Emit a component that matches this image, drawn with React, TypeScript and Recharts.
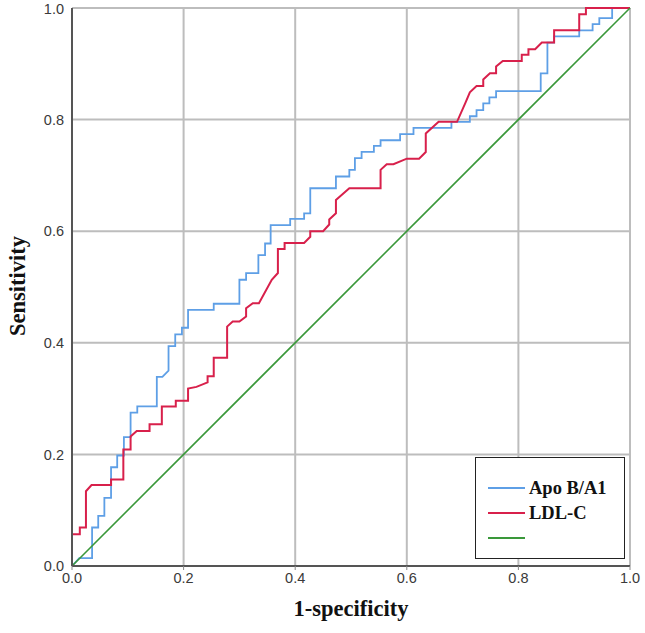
import { LineChart, Line, XAxis, YAxis, CartesianGrid } from "recharts";

// ROC step points (1-specificity, sensitivity)
const apoX = [
  0, 0.013, 0.036, 0.036, 0.047, 0.047, 0.058, 0.058, 0.07, 0.07, 0.081, 0.081, 0.093, 0.093,
  0.105, 0.105, 0.117, 0.117, 0.152, 0.152, 0.162, 0.173, 0.173, 0.185, 0.185, 0.197, 0.197,
  0.208, 0.208, 0.254, 0.254, 0.3, 0.3, 0.312, 0.312, 0.334, 0.334, 0.346, 0.346, 0.356, 0.356,
  0.391, 0.391, 0.416, 0.416, 0.427, 0.427, 0.473, 0.473, 0.497, 0.497, 0.507, 0.507, 0.519,
  0.519, 0.541, 0.541, 0.553, 0.553, 0.588, 0.588, 0.612, 0.612, 0.68, 0.68, 0.713, 0.713,
  0.725, 0.725, 0.737, 0.737, 0.748, 0.748, 0.76, 0.76, 0.84, 0.84, 0.852, 0.852, 0.864, 0.864,
  0.909, 0.909, 0.933, 0.933, 0.945, 0.945, 0.968, 0.968, 1,
];
const apoY = [
  0, 0.014, 0.014, 0.069, 0.069, 0.09, 0.09, 0.122, 0.122, 0.177, 0.177, 0.198, 0.198, 0.231,
  0.231, 0.275, 0.275, 0.286, 0.286, 0.339, 0.339, 0.35, 0.394, 0.394, 0.415, 0.415, 0.427,
  0.427, 0.459, 0.459, 0.47, 0.47, 0.513, 0.513, 0.525, 0.525, 0.557, 0.557, 0.578, 0.578, 0.611,
  0.611, 0.622, 0.622, 0.632, 0.632, 0.677, 0.677, 0.698, 0.698, 0.71, 0.71, 0.731, 0.731,
  0.742, 0.742, 0.753, 0.753, 0.763, 0.763, 0.774, 0.774, 0.785, 0.785, 0.796, 0.796, 0.806,
  0.806, 0.817, 0.817, 0.829, 0.829, 0.84, 0.84, 0.851, 0.851, 0.883, 0.883, 0.938, 0.938, 0.949,
  0.949, 0.96, 0.96, 0.971, 0.971, 0.982, 0.982, 1, 1,
];

const ldlX = [
  0, 0, 0.014, 0.014, 0.025, 0.025, 0.035, 0.07, 0.07, 0.092, 0.092, 0.105, 0.105, 0.116, 0.139,
  0.139, 0.161, 0.161, 0.186, 0.186, 0.208, 0.208, 0.223, 0.243, 0.243, 0.254, 0.254, 0.278,
  0.278, 0.288, 0.3, 0.312, 0.312, 0.324, 0.335, 0.358, 0.369, 0.369, 0.381, 0.381, 0.416, 0.427,
  0.427, 0.45, 0.461, 0.461, 0.473, 0.473, 0.497, 0.553, 0.553, 0.564, 0.576, 0.6, 0.622, 0.634,
  0.634, 0.657, 0.69, 0.705, 0.713, 0.725, 0.737, 0.737, 0.749, 0.76, 0.76, 0.772, 0.806, 0.806,
  0.818, 0.818, 0.83, 0.842, 0.864, 0.864, 0.909, 0.909, 0.921, 0.921, 1,
];
const ldlY = [
  0, 0.057, 0.057, 0.069, 0.069, 0.134, 0.145, 0.145, 0.155, 0.155, 0.209, 0.209, 0.232, 0.242,
  0.242, 0.254, 0.254, 0.286, 0.286, 0.296, 0.296, 0.318, 0.321, 0.329, 0.34, 0.34, 0.373, 0.373,
  0.429, 0.438, 0.438, 0.447, 0.462, 0.471, 0.471, 0.513, 0.525, 0.568, 0.568, 0.579, 0.579,
  0.59, 0.6, 0.6, 0.612, 0.621, 0.632, 0.656, 0.677, 0.677, 0.71, 0.72, 0.72, 0.73, 0.73, 0.742,
  0.775, 0.796, 0.796, 0.83, 0.849, 0.86, 0.86, 0.872, 0.883, 0.883, 0.895, 0.905, 0.905, 0.916,
  0.916, 0.926, 0.926, 0.938, 0.938, 0.96, 0.96, 0.989, 0.989, 1, 1,
];

const refX = [0, 1];
const refY = [0, 1];

const ticks = [0, 0.2, 0.4, 0.6, 0.8, 1.0];

const legendItems = [
  { label: "Apo B/A1", color: "#5e9fe6" },
  { label: "LDL-C", color: "#d8204b" },
  { label: "", color: "#3a983a" },
];

const toPoints = (xs: number[], ys: number[]) => xs.map((x, i) => ({ x, y: ys[i] }));

const apoData = toPoints(apoX, apoY);
const ldlData = toPoints(ldlX, ldlY);
const refData = toPoints(refX, refY);

const tickStyle = { fontFamily: "Liberation Sans, Arial, sans-serif", fontSize: 14.5, fill: "#3a3a3a" };
const titleFont = "Liberation Serif, 'Times New Roman', serif";

export default function App() {
  return (
    <div style={{ position: "absolute", left: 0, top: 0, width: 645, height: 633, background: "#fff" }}>
      <LineChart width={645} height={633} margin={{ top: 8, right: 15, bottom: 37, left: 0 }}>
        <CartesianGrid stroke="#bdbdbd" strokeWidth={2} />
        <XAxis
          type="number"
          dataKey="x"
          domain={[0, 1]}
          ticks={ticks}
          tickFormatter={(v: number) => v.toFixed(1)}
          height={30}
          tick={tickStyle}
          tickSize={4}
          tickMargin={3}
          tickLine={{ stroke: "#888" }}
          axisLine={{ stroke: "#555", strokeWidth: 2 }}
          allowDuplicatedCategory={false}
        />
        <YAxis
          type="number"
          dataKey="y"
          domain={[0, 1]}
          ticks={ticks}
          tickFormatter={(v: number) => v.toFixed(1)}
          width={72}
          tick={tickStyle}
          tickSize={0}
          tickMargin={8}
          axisLine={{ stroke: "#555", strokeWidth: 2 }}
        />
        <Line data={apoData} dataKey="y" type="linear" stroke="#5e9fe6" strokeWidth={1.8} dot={false} activeDot={false} isAnimationActive={false} />
        <Line data={ldlData} dataKey="y" type="linear" stroke="#d8204b" strokeWidth={2} dot={false} activeDot={false} isAnimationActive={false} />
        <Line data={refData} dataKey="y" type="linear" stroke="#3a983a" strokeWidth={1.6} dot={false} activeDot={false} isAnimationActive={false} />
      </LineChart>

      <div
        style={{
          position: "absolute",
          left: 475,
          top: 457,
          width: 148,
          height: 100,
          border: "1.5px solid #222",
          background: "#fff",
        }}
      >
        {legendItems.map((item, i) => (
          <div key={i} style={{ position: "absolute", left: 12, top: 18 + i * 25, height: 24, display: "flex", alignItems: "center" }}>
            <div style={{ width: 37, height: 2, background: item.color }} />
            <span style={{ marginLeft: 4, fontFamily: titleFont, fontWeight: 700, fontSize: 18.5, color: "#111" }}>{item.label}</span>
          </div>
        ))}
      </div>

      <div
        style={{
          position: "absolute",
          left: 72,
          width: 558,
          top: 596,
          textAlign: "center",
          fontFamily: titleFont,
          fontWeight: 700,
          fontSize: 22.5,
          color: "#111",
        }}
      >
        1-specificity
      </div>
      <div
        style={{
          position: "absolute",
          left: 18,
          top: 286,
          transform: "translate(-50%, -50%) rotate(-90deg)",
          whiteSpace: "nowrap",
          fontFamily: titleFont,
          fontWeight: 700,
          fontSize: 22.5,
          color: "#111",
        }}
      >
        Sensitivity
      </div>
    </div>
  );
}
